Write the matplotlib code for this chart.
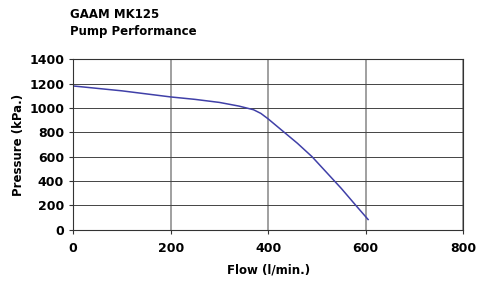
import matplotlib.pyplot as plt

flow = [0, 50, 100, 150, 200, 250, 300, 340, 370, 385, 400, 430, 460, 490, 520, 550, 580, 605]
pressure = [1180, 1160, 1140, 1115, 1090, 1070, 1045, 1015, 985, 955, 910, 810, 710, 600, 470, 340, 200, 85]

plt.rcParams['font.family'] = 'DejaVu Sans'
plt.rcParams['font.weight'] = 'bold'

fig = plt.figure(figsize=(4.78, 2.87), dpi=100)
ax = fig.add_axes([0.153, 0.199, 0.816, 0.595])

ax.plot(flow, pressure, color='#4040a8', lw=1.1)

ax.set_xlim(0, 800)
ax.set_ylim(0, 1400)
ax.set_xticks(range(0, 801, 200))
ax.set_yticks(range(0, 1401, 200))
ax.tick_params(labelsize=9, length=3, width=0.8, color='#333333')
ax.tick_params(axis='x', pad=6)
for lab in ax.get_xticklabels() + ax.get_yticklabels():
    lab.set_fontweight('bold')

ax.grid(axis='y', color='#444444', lw=0.7)
ax.grid(axis='x', color='#999999', lw=1.3)
for s in ax.spines.values():
    s.set_color('#333333')
    s.set_linewidth(0.8)

ax.set_xlabel('Flow (l/min.)', fontsize=8.5, fontweight='bold', labelpad=6)
ax.set_ylabel('Pressure (kPa.)', fontsize=8.5, fontweight='bold', labelpad=3)

fig.text(0.146, 0.95, 'GAAM MK125', fontsize=8.5, fontweight='bold', va='center')
fig.text(0.146, 0.89, 'Pump Performance', fontsize=8.5, fontweight='bold', va='center')

fig.savefig('out.png', dpi=100)
